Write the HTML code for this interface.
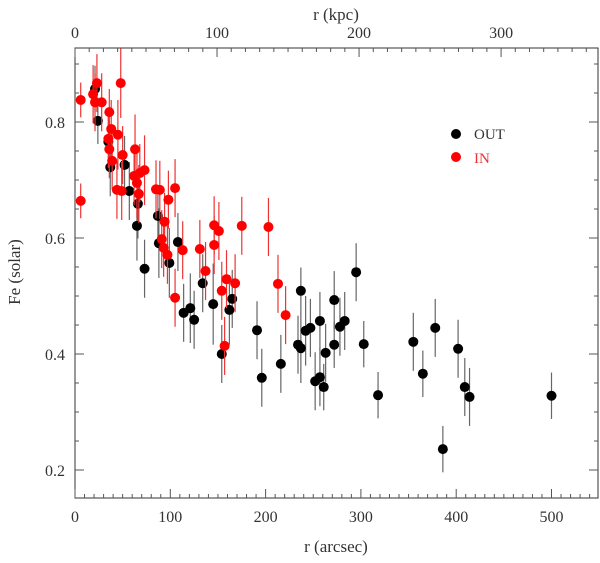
<!DOCTYPE html>
<html><head><meta charset="utf-8"><style>
html,body{margin:0;padding:0;background:#fff;}
svg text{font-family:"Liberation Serif",serif;fill:#333;}
</style></head><body>
<svg id="chart" width="600" height="558" xmlns="http://www.w3.org/2000/svg">
<g id="grid-axes"></g>
<g id="marks"></g>
</svg>
<script>
const outR = [21,24,35,37,52,57,66,65,73,87,88,99,108,114,121,125,134,145,154,162,165,191,196,216,234,237,237,242,247,252,257,257,261,263,272,272,278,283,295,303,318,355,365,378,386,402,409,414,500];
const outFe = [0.857,0.802,0.766,0.722,0.726,0.681,0.659,0.621,0.547,0.638,0.591,0.557,0.593,0.471,0.479,0.459,0.522,0.486,0.4,0.476,0.495,0.441,0.359,0.383,0.416,0.41,0.509,0.44,0.445,0.353,0.457,0.36,0.343,0.402,0.493,0.416,0.447,0.457,0.541,0.417,0.329,0.421,0.366,0.445,0.236,0.409,0.343,0.326,0.328];
const outErr = [0.04,0.04,0.05,0.05,0.05,0.05,0.06,0.06,0.05,0.05,0.06,0.06,0.05,0.05,0.06,0.05,0.05,0.07,0.05,0.06,0.05,0.05,0.05,0.05,0.05,0.06,0.04,0.06,0.05,0.05,0.05,0.05,0.04,0.05,0.05,0.04,0.05,0.05,0.05,0.04,0.04,0.05,0.04,0.05,0.04,0.05,0.05,0.05,0.04];
const inR = [6,23,19,21,28,48,36,38,35,36,45,39,50,63,62,68,73,65,44,49,67,85,89,105,6,98,94,91,93,97,113,105,131,137,146,151,146,159,154,168,175,157,203,213,221];
const inFe = [0.838,0.867,0.848,0.834,0.834,0.867,0.817,0.788,0.771,0.753,0.778,0.733,0.743,0.753,0.707,0.712,0.717,0.695,0.683,0.681,0.676,0.684,0.683,0.686,0.664,0.666,0.628,0.598,0.583,0.571,0.579,0.497,0.581,0.543,0.622,0.612,0.588,0.529,0.509,0.522,0.621,0.414,0.619,0.521,0.467];
const inErr = [0.03,0.05,0.05,0.05,0.05,0.06,0.04,0.05,0.05,0.05,0.06,0.05,0.05,0.06,0.05,0.05,0.06,0.06,0.05,0.05,0.05,0.05,0.05,0.05,0.03,0.05,0.05,0.05,0.05,0.05,0.05,0.05,0.05,0.05,0.05,0.05,0.05,0.05,0.05,0.05,0.05,0.05,0.05,0.05,0.05];
const xTicks = [0,100,200,300,400,500];
const yTicks = [0.2,0.4,0.6,0.8];
const kpcTicks = [0,100,200,300];

const L=75,R=598,T=48,B=498;
const sx = v => L + v*0.953;
const sy = v => 122 - (v-0.8)*580;
const kpcPerArcsec = 0.671;
const sk = v => L + (v/kpcPerArcsec)*0.953;
const NS='http://www.w3.org/2000/svg';
const ax=document.getElementById('grid-axes'), mk=document.getElementById('marks');
function el(tag,attrs,parent,txt){const e=document.createElementNS(NS,tag);for(const k in attrs)e.setAttribute(k,attrs[k]);if(txt!==undefined)e.textContent=txt;parent.appendChild(e);return e;}

const frame=el('rect',{x:L,y:T,width:R-L,height:B-T,fill:'none',stroke:'#333','stroke-width':1},ax);


for(let v=0; sx(v)<=R; v+=10){
  const maj = v%100===0, len = maj?9:4;
  el('line',{x1:sx(v),x2:sx(v),y1:B,y2:B-len,stroke:'#555','stroke-width':1},ax);
}
for(let v=0; sk(v)<=R; v+=10){
  const maj = v%100===0, len = maj?9:4;
  el('line',{x1:sk(v),x2:sk(v),y1:T,y2:T+len,stroke:'#555','stroke-width':1},ax);
}
for(let i=0;i<=16;i++){
  const v=0.15+i*0.05; const y=sy(v); if(y<T||y>B) continue;
  const maj = Math.abs((v*10)%2)<0.01 || Math.abs((v*10)%2-2)<0.01;
  const len = maj?9:4;
  el('line',{x1:L,x2:L+len,y1:y,y2:y,stroke:'#555','stroke-width':1},ax);
  el('line',{x1:R,x2:R-len,y1:y,y2:y,stroke:'#555','stroke-width':1},ax);
}
xTicks.forEach(v=>{const t=el('text',{x:sx(v),y:B+24,'text-anchor':'middle','font-size':16},ax,String(v));

});
kpcTicks.forEach(v=>{const t=el('text',{x:sk(v),y:38,'text-anchor':'middle','font-size':16},ax,String(v));

});
yTicks.forEach(v=>{const t=el('text',{x:L-10,y:sy(v)+6,'text-anchor':'end','font-size':16},ax,v.toFixed(1));

});
const xt=el('text',{x:336,y:552,'text-anchor':'middle','font-size':17},ax,'r (arcsec)');


const tt=el('text',{x:336,y:20,'text-anchor':'middle','font-size':17},ax,'r (kpc)');


const yt=el('text',{x:0,y:0,'text-anchor':'middle','font-size':17,transform:'translate(20,272) rotate(-90)'},ax,'Fe (solar)');



function series(rs,fs,es,color,barColor,name){
  rs.forEach((r,i)=>{
    const b=el('line',{x1:sx(r),x2:sx(r),y1:sy(fs[i]+es[i]),y2:sy(fs[i]-es[i]),stroke:barColor,'stroke-width':1.2},mk);
    
    
  });
  rs.forEach((r,i)=>{
    const c=el('circle',{cx:sx(r),cy:sy(fs[i]),r:5,fill:color},mk);
    
    
  });
}
series(outR,outFe,outErr,'#000','#666','out');
series(inR,inFe,inErr,'#f00','#e33','in');

const l1=el('circle',{cx:456,cy:134,r:5,fill:'#000'},ax);


const l2=el('text',{x:474,y:139,'font-size':15},ax,'OUT');


const l3=el('circle',{cx:456,cy:157,r:5,fill:'#f00'},ax);


const l4=el('text',{x:474,y:163,'font-size':15,style:'fill:#e33'},ax,'IN');


</script>
</body></html>
